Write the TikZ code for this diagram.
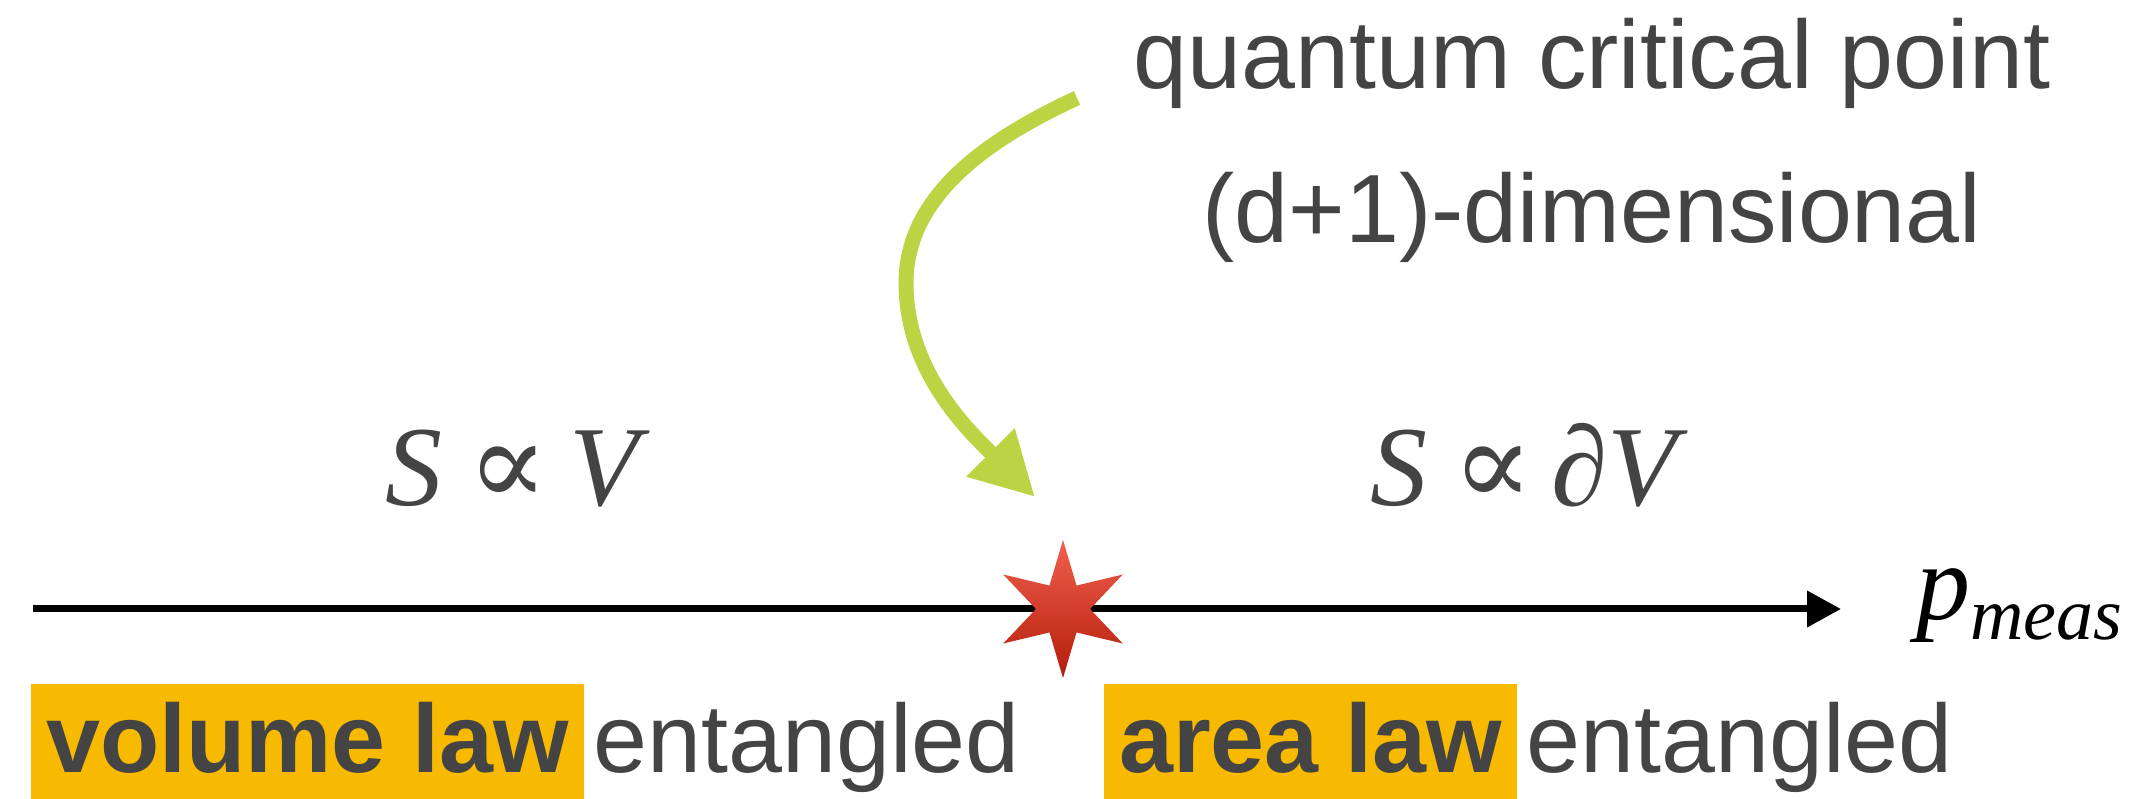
\RequirePackage{fix-cm}
\documentclass[tikz,border=0pt]{standalone}
\usepackage{fontspec}
\usepackage{graphicx}
\setmainfont{Liberation Sans}
\newfontfamily\timesfont{Liberation Serif}
\newfontfamily\symbolfont{DejaVu Serif}
\usetikzlibrary{shapes.geometric, arrows.meta, positioning}

\definecolor{labelgray}{RGB}{68,68,68}
\definecolor{lawyellow}{RGB}{248,186,0}
\definecolor{arrowgreen}{RGB}{188,211,68}
\definecolor{startop}{RGB}{240,96,76}
\definecolor{starbottom}{RGB}{180,28,10}

\newcommand{\propsign}{{\symbolfont\fontsize{120}{120}\selectfont ∝}}

\begin{document}
\begin{tikzpicture}[
        x=1pt, y=1pt,
        axis/.style={line width=7pt, -{Triangle[length=34pt, width=35pt]}},
        qcparrow/.style={line width=15pt, draw=arrowgreen, -{Triangle[length=63pt, width=64pt]}},
        qcpstar/.style={star, star points=6, star point ratio=2.55, minimum size=138pt, inner sep=0pt, top color=startop, bottom color=starbottom},
        toplabel/.style={inner sep=0pt, text=labelgray, font=\fontsize{97}{116}\selectfont},
        scaling/.style={inner sep=0pt, text=labelgray, font=\timesfont\itshape\fontsize{114}{114}\selectfont},
        lawbox/.style={fill=lawyellow, inner xsep=15pt, inner ysep=0pt, text height=89pt, text depth=26pt, text=labelgray, font=\bfseries\fontsize{97}{116}\selectfont},
        lawtext/.style={inner sep=0pt, text=labelgray, font=\fontsize{97}{116}\selectfont}
    ]
    \useasboundingbox (0,0) rectangle (2152,799);

    % Axis with the critical point
    \coordinate (axisstart) at (33,190);
    \coordinate (axisend) at (1841,190);
    \draw [axis] (axisstart) -- (axisend);
    \node (qcp) [qcpstar] at (1063,190) {};
    \node (pmeas) [scaling, text=black, font=\timesfont\itshape\fontsize{108}{108}\selectfont, anchor=base west] at (1916,179) {p\raisebox{-20pt}{\fontsize{74}{74}\selectfont meas}};

    % Scaling of the entropy
    \node (volscaling) [scaling, anchor=base west] at (385,293) {S\hspace{25pt}\propsign\hspace{21pt}V};
    \node (areascaling) [scaling, anchor=base west] at (1370,293) {S\hspace{25pt}\propsign\hspace{18pt}∂V};

    % Label and arrow of the critical point
    \node (qcpline1) [toplabel, anchor=base] at (1592,710) {quantum critical point};
    \node (qcpline2) [toplabel, anchor=base] at ([yshift=-154pt]qcpline1.base) {(d+1)-dimensional};
    \coordinate (qcptail) at (1077,701);
    \coordinate (qcphead) at (1035,302);
    \draw [qcparrow] (qcptail) .. controls (993,662) and (906,606) .. (906,516) .. controls (906,426) and (971,366) .. (qcphead);

    % Phases
    \node (volbox) [lawbox, anchor=base west] at (31,26) {volume law};
    \node (volent) [lawtext, anchor=base west] at ([xshift=9pt]volbox.base east) {entangled};
    \node (areabox) [lawbox, anchor=base west] at (1104,26) {area law};
    \node (areaent) [lawtext, anchor=base west] at ([xshift=9pt]areabox.base east) {entangled};
\end{tikzpicture}
\end{document}
